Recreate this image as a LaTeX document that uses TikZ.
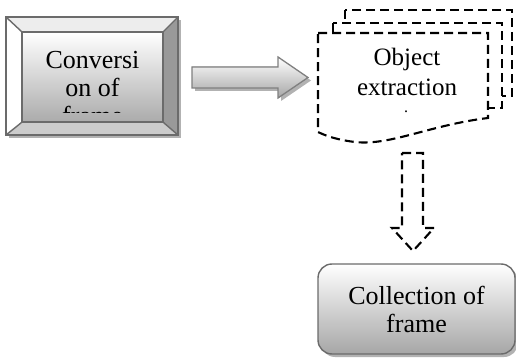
\documentclass[tikz,border=0pt]{standalone}
\usepackage{fontspec}
\setmainfont{Liberation Serif}
\usetikzlibrary{calc}
\begin{document}
\begin{tikzpicture}[x=1pt,y=-1pt,
  edge/.style={draw=black!58,line width=1.4pt,line join=miter},
  dsh/.style={draw=black,line width=2.1pt,dash pattern=on 9pt off 5pt,fill=white},
  shadowfill/.style={fill=black!30},
  lblbig/.style={font=\fontsize{26}{28}\selectfont,align=center,inner sep=0pt},
  lblmid/.style={font=\fontsize{25}{30}\selectfont,align=center,inner sep=0pt},
]
\useasboundingbox (0,0) rectangle (516,363);

% ---------- bevel box ----------
\fill[shadowfill] (9,20) rectangle (181,138);
\fill[black!7] (6,17) -- (178,17) -- (163,32) -- (22,32) -- cycle;
\fill[white] (6,17) -- (22,32) -- (22,122) -- (6,135) -- cycle;
\fill[black!40] (178,17) -- (178,135) -- (163,122) -- (163,32) -- cycle;
\fill[black!20] (6,135) -- (22,122) -- (163,122) -- (178,135) -- cycle;
\node[edge,top color=white,bottom color=black!33,minimum width=141pt,minimum height=90pt,inner sep=0pt] (conv) at (92.5,77) {};
\draw[edge] (6,17) rectangle (178,135);
\draw[edge] (6,17) -- (conv.north west) (178,17) -- (conv.north east)
            (6,135) -- (conv.south west) (178,135) -- (conv.south east);
\begin{scope}
  \clip (conv.north west) rectangle ($(conv.east|-0,113)$);
  \node[lblbig] (convtxt) at (92.5,88.5) {Conversi\\on of\\frame};
\end{scope}

% ---------- right block arrow ----------
\coordinate (ra) at (192,77.5);
\coordinate (rb) at (308,77.5);
\fill[shadowfill] ($(ra)+(3,-7.5)$) -- ($(rb)+(-27,-7.5)$) -- ($(rb)+(-27,-17.5)$) -- ($(rb)+(3,3)$)
   -- ($(rb)+(-27,23.5)$) -- ($(rb)+(-27,13.5)$) -- ($(ra)+(3,13.5)$) -- cycle;
\filldraw[draw=black!50,line width=1.3pt,top color=white,bottom color=black!35]
   ($(ra)+(0,-10.5)$) -- ($(rb)+(-30,-10.5)$) -- ($(rb)+(-30,-20.5)$) -- (rb)
   -- ($(rb)+(-30,20.5)$) -- ($(rb)+(-30,10.5)$) -- ($(ra)+(0,10.5)$) -- cycle;

% ---------- dashed multi-document ----------
\path[dsh] (345,10) rectangle (512,96);
\path[dsh] (333,23) rectangle (502,108);
\path[dsh] (318,33) -- (488,33) -- (488,118)
   .. controls (430,125) and (390,146) .. (355,142)
   .. controls (338,140) and (326,136) .. (318,132) -- cycle;
\node[lblmid] (obj) at (407,72) {Object\\extraction};
\node[font=\fontsize{16}{16}\selectfont,inner sep=0pt,anchor=base] (objdot) at (406,113) {.};

% ---------- dashed down arrow ----------
\coordinate (da) at (412.5,153);
\coordinate (db) at (413,251);
\path[dsh,fill=none] ($(da)+(-10.5,0)$) -- ($(da)+(10.5,0)$) -- ($(db)+(10,-23)$) -- ($(db)+(21,-23)$)
   -- (db) -- ($(db)+(-21,-23)$) -- ($(db)+(-11,-23)$) -- cycle;

% ---------- collection box ----------
\fill[shadowfill,rounded corners=14pt] (321,267) rectangle (518,357);
\node[edge,rounded corners=14pt,top color=white,bottom color=black!35,
      minimum width=197pt,minimum height=90pt,inner sep=0pt,
      font=\fontsize{26}{28}\selectfont,align=center] (coll) at (416.5,309) {Collection of\\frame};
\end{tikzpicture}
\end{document}
